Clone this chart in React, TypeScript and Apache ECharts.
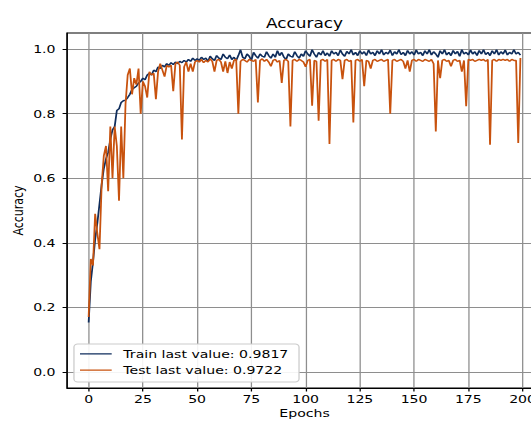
import React, { useEffect, useRef } from "react";
import * as echarts from "echarts";

const trainAcc = [
  0.153, 0.28, 0.34, 0.41, 0.46, 0.52, 0.58, 0.63, 0.66, 0.68,
  0.72, 0.75, 0.76, 0.81, 0.815, 0.835, 0.84, 0.842, 0.85, 0.86,
  0.875, 0.88, 0.885, 0.895, 0.9, 0.91, 0.905, 0.92, 0.925, 0.92,
  0.935, 0.93, 0.945, 0.94, 0.95, 0.945, 0.955, 0.95, 0.958, 0.952,
  0.96, 0.955, 0.962, 0.958, 0.965, 0.96, 0.968, 0.962, 0.972, 0.965,
  0.97, 0.965, 0.975, 0.968, 0.972, 0.962, 0.978, 0.97, 0.965, 0.98,
  0.972, 0.968, 0.985, 0.975, 0.97, 0.982, 0.968, 0.975, 0.965, 0.98,
  0.998, 0.975, 0.97, 0.985, 0.978, 0.965, 0.99, 0.98, 0.972, 0.985,
  0.978, 0.975, 0.992, 0.98, 0.972, 0.985, 0.975, 0.995, 0.98, 0.99,
  0.975, 0.968, 0.985, 0.978, 0.975, 0.992, 0.98, 0.972, 0.985, 0.978,
  0.995, 0.985, 0.978, 0.998, 0.985, 0.975, 0.99, 0.982, 0.995, 0.98,
  0.988, 0.978, 0.995, 0.985, 0.99, 0.98, 0.997, 0.985, 0.978, 0.993,
  0.985, 0.998, 0.982, 0.99, 0.98, 0.995, 0.985, 0.992, 0.98, 0.997,
  0.985, 0.99, 0.98, 0.995, 0.985, 0.998, 0.982, 0.99, 0.985, 0.997,
  0.98, 0.992, 0.985, 0.998, 0.983, 0.99, 0.98, 0.996, 0.985, 0.992,
  0.982, 0.997, 0.985, 0.99, 0.98, 0.995, 0.985, 0.998, 0.982, 0.992,
  0.985, 0.975, 0.995, 0.985, 0.998, 0.982, 0.99, 0.98, 0.996, 0.985,
  0.993, 0.978, 0.998, 0.985, 0.99, 0.982, 0.997, 0.985, 0.992, 0.98,
  0.996, 0.985, 0.998, 0.983, 0.99, 0.98, 0.995, 0.985, 0.998, 0.982,
  0.992, 0.985, 0.997, 0.982, 0.99, 0.985, 0.998, 0.985, 0.99, 0.9817,
];

const testAcc = [
  0.17, 0.35, 0.33, 0.49, 0.43, 0.38, 0.58, 0.67, 0.7, 0.56,
  0.76, 0.6, 0.76, 0.7, 0.53, 0.76, 0.6, 0.83, 0.92, 0.94,
  0.86, 0.91, 0.89, 0.94, 0.8, 0.9, 0.885, 0.85, 0.93, 0.92,
  0.925, 0.845, 0.93, 0.955, 0.935, 0.915, 0.95, 0.945, 0.95, 0.87,
  0.955, 0.96, 0.95, 0.72, 0.945, 0.96, 0.93, 0.955, 0.93, 0.96,
  0.965, 0.96, 0.968, 0.958, 0.965, 0.96, 0.97, 0.962, 0.93, 0.965,
  0.968, 0.96, 0.93, 0.962, 0.926, 0.96, 0.94, 0.965, 0.968, 0.8,
  0.962, 0.968, 0.965, 0.96, 0.968, 0.965, 0.962, 0.968, 0.835, 0.965,
  0.97, 0.962, 0.968, 0.96, 0.947, 0.965, 0.968, 0.96, 0.965, 0.895,
  0.965, 0.968, 0.962, 0.76, 0.965, 0.968, 0.962, 0.968, 0.965, 0.96,
  0.945, 0.965, 0.968, 0.825, 0.965, 0.962, 0.778, 0.965, 0.968, 0.962,
  0.968, 0.706, 0.965, 0.968, 0.962, 0.968, 0.965, 0.907, 0.965, 0.968,
  0.962, 0.965, 0.773, 0.965, 0.968, 0.962, 0.968, 0.885, 0.965, 0.962,
  0.94, 0.965, 0.968, 0.962, 0.965, 0.968, 0.962, 0.965, 0.968, 0.8,
  0.965, 0.968, 0.962, 0.965, 0.968, 0.962, 0.94, 0.965, 0.93, 0.965,
  0.968, 0.962, 0.968, 0.965, 0.962, 0.968, 0.965, 0.962, 0.968, 0.955,
  0.745, 0.965, 0.91, 0.965, 0.968, 0.962, 0.965, 0.947, 0.965, 0.968,
  0.962, 0.965, 0.93, 0.965, 0.823, 0.968, 0.965, 0.968, 0.962, 0.965,
  0.968, 0.965, 0.968, 0.962, 0.968, 0.704, 0.965, 0.968, 0.962, 0.968,
  0.965, 0.968, 0.965, 0.968, 0.962, 0.968, 0.965, 0.965, 0.709, 0.9722,
];

const xTicks = [0, 25, 50, 75, 100, 125, 150, 175, 200];
const yTicks = [0, 0.2, 0.4, 0.6, 0.8, 1.0];
const seriesNames = ["Train", "Test"];
const legendLabels = ["Train last value: 0.9817", "Test last value: 0.9722"];
const titleText = "Accuracy";
const xName = "Epochs";
const yName = "Accuracy";

const TRAIN_COLOR = "#0f2d5c";
const TEST_COLOR = "#c8520e";
const FONT = "DejaVu Sans";
const VIEW_W = 531;
const CHART_H = 421;
const STRETCH = 531 / 415;
const CHART_W = 440; // wider than the visible area so the plot can run past the right edge

export default function App() {
  const ref = useRef<HTMLDivElement>(null);

  useEffect(() => {
    if (!ref.current) return;
    const chart = echarts.init(ref.current, null, { renderer: "svg" });
    const gridLeft = 52.4;
    const gridTop = 33;
    const gridW = 371.2;
    const gridH = 355;
    const gridCx = gridLeft + gridW / 2;

    const option: any = {
      animation: false,
      backgroundColor: "#ffffff",
      grid: {
        left: gridLeft,
        top: gridTop,
        width: gridW,
        height: gridH,
        show: true,
        borderColor: "#000000",
        borderWidth: 1,
        backgroundColor: "transparent",
        containLabel: false,
      },
      xAxis: {
        type: "value",
        min: -9.95,
        max: 208.95,
        minInterval: 25,
        maxInterval: 25,
        axisLine: { show: true, onZero: false, lineStyle: { color: "#000", width: 1 } },
        axisTick: {
          show: true,
          length: 3.5,
          customValues: xTicks,
          lineStyle: { color: "#000", width: 1 },
        },
        axisLabel: {
          show: true,
          customValues: xTicks,
          margin: 6,
          color: "#000",
          fontFamily: FONT,
          fontSize: 11,
          showMinLabel: true,
          showMaxLabel: true,
          hideOverlap: false,
          formatter: (v: number) => String(Math.round(v)),
        },
        splitLine: { show: true, lineStyle: { color: "#8e8e8e", width: 1 } },
      },
      yAxis: {
        type: "value",
        min: -0.05,
        max: 1.05,
        minInterval: 0.2,
        maxInterval: 0.2,
        axisLine: { show: true, onZero: false, lineStyle: { color: "#000", width: 1 } },
        axisTick: {
          show: true,
          length: 3.5,
          customValues: yTicks,
          lineStyle: { color: "#000", width: 1 },
        },
        axisLabel: {
          show: true,
          customValues: yTicks,
          margin: 9,
          color: "#000",
          fontFamily: FONT,
          fontSize: 11,
          showMinLabel: true,
          showMaxLabel: true,
          hideOverlap: false,
          formatter: (v: number) => v.toFixed(1),
        },
        splitLine: { show: true, lineStyle: { color: "#8e8e8e", width: 1 } },
      },
      series: [
        {
          name: seriesNames[0],
          type: "line",
          data: trainAcc.map((v, i) => [i, v]),
          showSymbol: false,
          symbol: "none",
          lineStyle: { color: TRAIN_COLOR, width: 1.4 },
          z: 3,
        },
        {
          name: seriesNames[1],
          type: "line",
          data: testAcc.map((v, i) => [i, v]),
          showSymbol: false,
          symbol: "none",
          lineStyle: { color: TEST_COLOR, width: 1.4 },
          z: 4,
        },
      ],
      graphic: [
        {
          type: "text",
          x: gridCx,
          y: 23.3,
          style: {
            text: titleText,
            fill: "#000",
            font: `13.2px "${FONT}"`,
            textAlign: "center",
            textVerticalAlign: "middle",
          },
        },
        {
          type: "text",
          x: gridCx,
          y: 413,
          style: {
            text: xName,
            fill: "#000",
            font: `11px "${FONT}"`,
            textAlign: "center",
            textVerticalAlign: "middle",
          },
        },
        {
          type: "text",
          x: 14.1,
          y: gridTop + gridH / 2,
          rotation: Math.PI / 2,
          style: {
            text: yName,
            fill: "#000",
            font: `11px "${FONT}"`,
            textAlign: "center",
            textVerticalAlign: "middle",
          },
        },
        {
          type: "group",
          z: 100,
          children: [
            {
              type: "rect",
              z: 100,
              shape: { x: 57.8, y: 344, width: 175.9, height: 38, r: 3 },
              style: { fill: "rgba(255,255,255,0.9)", stroke: "#cccccc", lineWidth: 1 },
            },
            {
              type: "line",
              z: 101,
              shape: { x1: 62.5, y1: 353.8, x2: 87.3, y2: 353.8 },
              style: { stroke: TRAIN_COLOR, lineWidth: 1.2 },
            },
            {
              type: "line",
              z: 101,
              shape: { x1: 62.5, y1: 370.2, x2: 87.3, y2: 370.2 },
              style: { stroke: TEST_COLOR, lineWidth: 1.2 },
            },
            {
              type: "text",
              z: 101,
              x: 96.4,
              y: 353.6,
              style: {
                text: legendLabels[0],
                fill: "#000",
                font: `11px "${FONT}"`,
                textAlign: "left",
                textVerticalAlign: "middle",
              },
            },
            {
              type: "text",
              z: 101,
              x: 96.4,
              y: 370.2,
              style: {
                text: legendLabels[1],
                fill: "#000",
                font: `11px "${FONT}"`,
                textAlign: "left",
                textVerticalAlign: "middle",
              },
            },
          ],
        },
      ],
    };

    chart.setOption(option);
    return () => {
      chart.dispose();
    };
  }, []);

  return (
    <div
      style={{
        position: "absolute",
        left: 0,
        top: 0,
        width: VIEW_W,
        height: CHART_H,
        overflow: "hidden",
        background: "#fff",
      }}
    >
      <div
        ref={ref}
        style={{
          width: CHART_W,
          height: CHART_H,
          transform: `scaleX(${STRETCH})`,
          transformOrigin: "0 0",
        }}
      />
    </div>
  );
}
